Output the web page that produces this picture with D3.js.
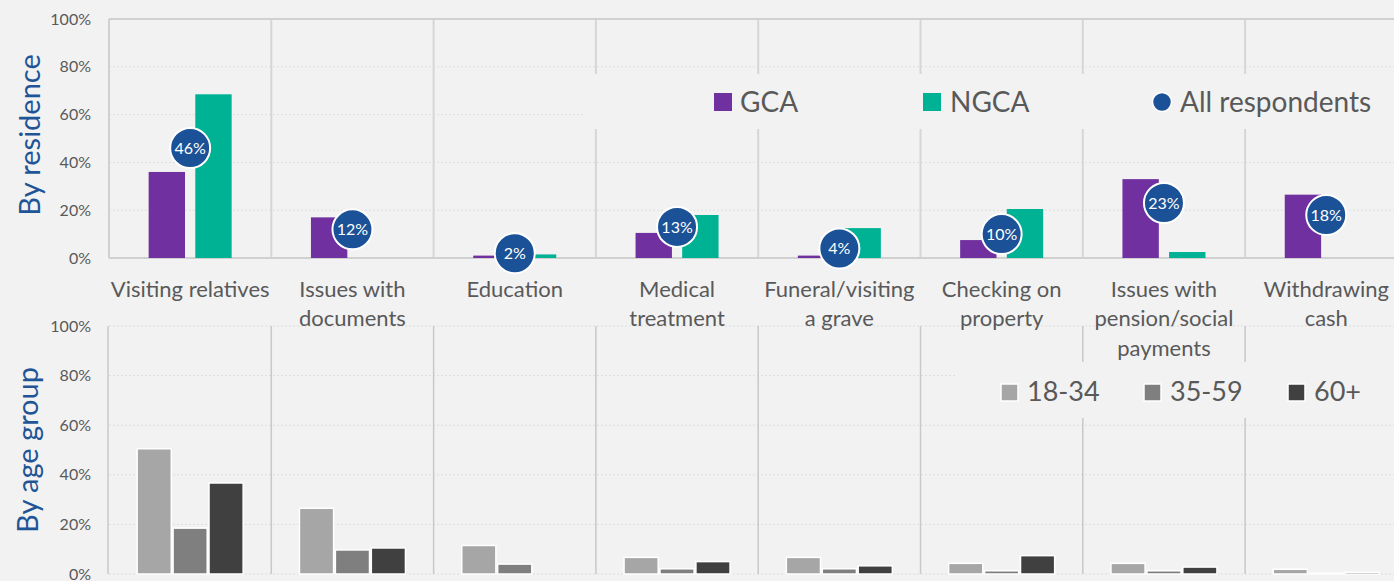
<!DOCTYPE html>
<html>
<head>
<meta charset="utf-8">
<script src="https://cdn.jsdelivr.net/npm/d3@7"></script>
<style>
  body { margin: 0; background: #f2f2f2; }
  svg { display: block; font-family: Lato, "Open Sans", sans-serif; }
</style>
</head>
<body>
<svg id="chart" width="1394" height="581"></svg>
<script>
// categories (line breaks as in the original labels)
const categories = [
  "Visiting relatives",
  "Issues with\ndocuments",
  "Education",
  "Medical\ntreatment",
  "Funeral/visiting\na grave",
  "Checking on\nproperty",
  "Issues with\npension/social\npayments",
  "Withdrawing\ncash"
];

// by residence
const residenceSeries = ["GCA", "NGCA"];
const gcaValues = [36, 17, 1, 10.5, 1, 7.5, 33, 26.5];
const ngcaValues = [68.5, 0, 1.5, 18, 12.5, 20.5, 2.5, 0];
const allRespondents = [46, 12, 2, 13, 4, 10, 23, 18];

// by age group
const ageSeries = ["18-34", "35-59", "60+"];
const age1834 = [50.5, 26.5, 11.5, 6.7, 6.7, 4.3, 4.3, 1.9];
const age3559 = [18.5, 9.7, 4, 2.1, 2.1, 1.3, 1.3, 0.3];
const age60 = [36.7, 10.5, 0, 5, 3.3, 7.4, 2.8, 0.7];

const yTicks = [0, 20, 40, 60, 80, 100];

const colors = {
  GCA: "#7030a0",
  NGCA: "#00b294",
  all: "#1b5196",
  "18-34": "#a6a6a6",
  "35-59": "#7f7f7f",
  "60+": "#404040"
};

const svg = d3.select("#chart");
const W = 1394;
const left = 109;
const catW = 162.3;

const x = d3.scaleBand()
  .domain(categories)
  .range([left, left + catW * categories.length])
  .paddingInner(0)
  .paddingOuter(0);

// ---------- top panel ----------
const yTop = d3.scaleLinear().domain([0, 100]).range([258, 19]);

const topPanel = svg.append("g");

topPanel.selectAll("line.grid")
  .data(yTicks.filter(d => d > 0 && d < 100))
  .enter().append("line")
  .attr("x1", left).attr("x2", W)
  .attr("y1", d => yTop(d)).attr("y2", d => yTop(d))
  .attr("stroke", "#dedede").attr("stroke-dasharray", "2,2");

topPanel.selectAll("line.div")
  .data(categories.slice(1))
  .enter().append("line")
  .attr("x1", d => x(d)).attr("x2", d => x(d))
  .attr("y1", yTop(100)).attr("y2", yTop(0))
  .attr("stroke", "#d6d6d6").attr("stroke-width", 2);

topPanel.append("line")
  .attr("x1", left).attr("x2", W)
  .attr("y1", yTop(100)).attr("y2", yTop(100))
  .attr("stroke", "#d0d0d0").attr("stroke-width", 2);
topPanel.append("line")
  .attr("x1", left).attr("x2", W)
  .attr("y1", yTop(0)).attr("y2", yTop(0))
  .attr("stroke", "#d0d0d0").attr("stroke-width", 2);
topPanel.append("line")
  .attr("x1", left).attr("x2", left)
  .attr("y1", yTop(100)).attr("y2", yTop(0))
  .attr("stroke", "#d0d0d0").attr("stroke-width", 2);

// legend background covers the grid
topPanel.append("rect")
  .attr("x", 585).attr("y", 74).attr("width", W - 585).attr("height", 55)
  .attr("fill", "#f2f2f2");

const xRes = d3.scaleBand()
  .domain(residenceSeries)
  .range([catW / 2 - 41.5, catW / 2 + 41.5])
  .paddingInner(0.22);

const resData = categories.map((c, i) => ({
  cat: c,
  vals: [{ s: "GCA", v: gcaValues[i] }, { s: "NGCA", v: ngcaValues[i] }],
  all: allRespondents[i]
}));

const resGroups = topPanel.selectAll("g.cat")
  .data(resData)
  .enter().append("g")
  .attr("transform", d => "translate(" + x(d.cat) + ",0)");

resGroups.selectAll("rect")
  .data(d => d.vals.filter(e => e.v > 0))
  .enter().append("rect")
  .attr("x", d => xRes(d.s))
  .attr("width", xRes.bandwidth())
  .attr("y", d => yTop(d.v))
  .attr("height", d => yTop(0) - yTop(d.v))
  .attr("fill", d => colors[d.s]);

resGroups.append("circle")
  .attr("cx", catW / 2)
  .attr("cy", d => yTop(d.all))
  .attr("r", 20)
  .attr("fill", colors.all)
  .attr("stroke", "#fff")
  .attr("stroke-width", 2);

resGroups.append("text")
  .attr("x", catW / 2)
  .attr("y", d => yTop(d.all))
  .attr("dy", "0.36em")
  .attr("text-anchor", "middle")
  .attr("fill", "#fff")
  .style("font-size", "16px")
  .text(d => d.all + "%");

topPanel.selectAll("text.tick")
  .data(yTicks)
  .enter().append("text")
  .attr("x", 91)
  .attr("y", d => yTop(d))
  .attr("dy", "0.35em")
  .attr("text-anchor", "end")
  .attr("fill", "#595959")
  .style("font-size", "16px")
  .text(d => d + "%");

topPanel.append("text")
  .attr("transform", "translate(30," + 135 + ") rotate(-90)")
  .attr("text-anchor", "middle")
  .attr("dy", "0.35em")
  .attr("fill", "#1f5597")
  .style("font-size", "29px")
  .text("By residence");

// ---------- bottom panel ----------
const yBot = d3.scaleLinear().domain([0, 100]).range([574, 326]);
const botPanel = svg.append("g");

botPanel.selectAll("line.grid")
  .data(yTicks)
  .enter().append("line")
  .attr("x1", left).attr("x2", W)
  .attr("y1", d => yBot(d)).attr("y2", d => yBot(d))
  .attr("stroke", "#dcdcdc").attr("stroke-dasharray", "2,2");

botPanel.selectAll("line.div")
  .data(categories.slice(1))
  .enter().append("line")
  .attr("x1", d => x(d)).attr("x2", d => x(d))
  .attr("y1", yBot(100)).attr("y2", yBot(0))
  .attr("stroke", "#c8c8c8").attr("stroke-width", 1.5);

botPanel.append("line")
  .attr("x1", left - 1).attr("x2", left - 1)
  .attr("y1", yBot(100)).attr("y2", yBot(0))
  .attr("stroke", "#c8c8c8").attr("stroke-width", 1.5);

botPanel.append("rect")
  .attr("x", 955).attr("y", 362).attr("width", W - 955).attr("height", 56)
  .attr("fill", "#f2f2f2");

const xAge = d3.scaleBand()
  .domain(ageSeries)
  .range([catW / 2 - 53, catW / 2 + 53])
  .paddingInner(0.05);

const ageData = categories.map((c, i) => ({
  cat: c,
  vals: [
    { s: "18-34", v: age1834[i] },
    { s: "35-59", v: age3559[i] },
    { s: "60+", v: age60[i] }
  ]
}));

const ageGroups = botPanel.selectAll("g.cat")
  .data(ageData)
  .enter().append("g")
  .attr("transform", d => "translate(" + x(d.cat) + ",0)");

ageGroups.selectAll("rect")
  .data(d => d.vals.filter(e => e.v > 0))
  .enter().append("rect")
  .attr("x", d => xAge(d.s))
  .attr("width", xAge.bandwidth())
  .attr("y", d => yBot(d.v))
  .attr("height", d => yBot(0) - yBot(d.v))
  .attr("fill", d => colors[d.s])
  .attr("stroke", "#fff")
  .attr("stroke-width", 1.5);

botPanel.selectAll("text.tick")
  .data(yTicks)
  .enter().append("text")
  .attr("x", 91)
  .attr("y", d => yBot(d))
  .attr("dy", "0.35em")
  .attr("text-anchor", "end")
  .attr("fill", "#595959")
  .style("font-size", "16px")
  .text(d => d + "%");

botPanel.append("text")
  .attr("transform", "translate(28," + 450 + ") rotate(-90)")
  .attr("text-anchor", "middle")
  .attr("dy", "0.35em")
  .attr("fill", "#1f5597")
  .style("font-size", "29px")
  .text("By age group");

// ---------- category labels ----------
const labels = svg.selectAll("text.cat")
  .data(categories)
  .enter().append("text")
  .attr("text-anchor", "middle")
  .attr("fill", "#595959")
  .style("font-size", "22px");

labels.selectAll("tspan")
  .data(d => d.split("\n").map(t => ({ t: t, c: d })))
  .enter().append("tspan")
  .attr("x", d => x(d.c) + catW / 2)
  .attr("y", (d, i) => 289 + i * 29.5)
  .attr("dy", "0.35em")
  .text(d => d.t);

// ---------- legends ----------
const legTop = svg.append("g").style("font-size", "28px").attr("fill", "#595959");
legTop.append("rect").attr("x", 714).attr("y", 93).attr("width", 18).attr("height", 18).attr("fill", colors.GCA);
legTop.append("text").attr("x", 740).attr("y", 102).attr("dy", "0.35em").text("GCA");
legTop.append("rect").attr("x", 923).attr("y", 93).attr("width", 18).attr("height", 18).attr("fill", colors.NGCA);
legTop.append("text").attr("x", 950).attr("y", 102).attr("dy", "0.35em").text("NGCA");
legTop.append("circle").attr("cx", 1162).attr("cy", 102).attr("r", 9.5)
  .attr("fill", colors.all).attr("stroke", "#fff").attr("stroke-width", 1.5);
legTop.append("text").attr("x", 1180).attr("y", 102).attr("dy", "0.35em").text("All respondents");

const legBot = svg.append("g").style("font-size", "27px").attr("fill", "#595959");
const legBotX = [1001, 1144, 1288];
ageSeries.forEach((s, i) => {
  legBot.append("rect").attr("x", legBotX[i]).attr("y", 384).attr("width", 17).attr("height", 17)
    .attr("fill", colors[s]).attr("stroke", "#fff").attr("stroke-width", 1.5);
  legBot.append("text").attr("x", legBotX[i] + 26).attr("y", 392).attr("dy", "0.35em").text(s);
});
</script>
</body>
</html>
